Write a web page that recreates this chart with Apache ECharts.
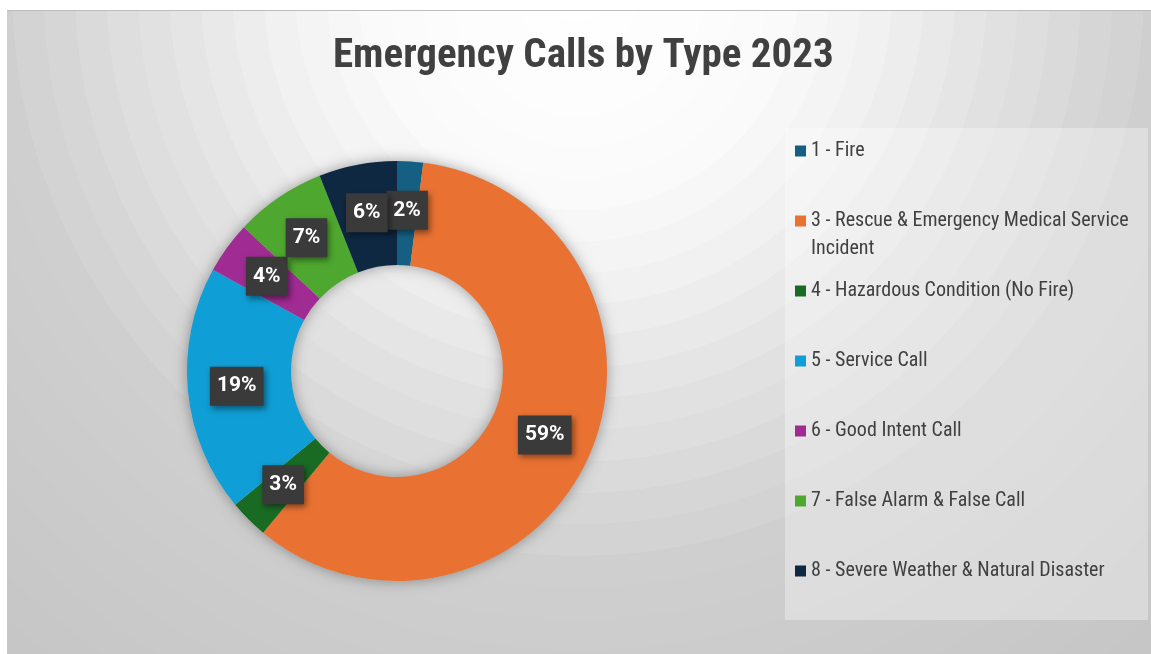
<!DOCTYPE html>
<html>
<head>
<meta charset="utf-8">
<title>Emergency Calls by Type 2023</title>
<script src="https://cdn.jsdelivr.net/npm/echarts@6/dist/echarts.min.js"></script>
<style>
  html, body { margin: 0; padding: 0; background: #ffffff; }
  #chart { width: 1151px; height: 654px; }
</style>
</head>
<body>
<div id="chart"></div>
<script>
// Call types and their share of all 2023 calls (percent)
const categories = [
  '1 - Fire',
  '3 - Rescue & Emergency Medical Service Incident',
  '4 - Hazardous Condition (No Fire)',
  '5 - Service Call',
  '6 - Good Intent Call',
  '7 - False Alarm & False Call',
  '8 - Severe Weather & Natural Disaster'
];
const shares = [2, 59, 3, 19, 4, 7, 6];
const sliceColors = ['#156082', '#E97132', '#196B24', '#0F9ED5', '#A02B93', '#4EA72E', '#0E2841'];

const narrowFont = "'Liberation Sans Narrow', 'Roboto Condensed', 'DejaVu Sans Condensed', Roboto, sans-serif";
const legendFontSize = 20;
const legendLine = 28;
const legendWrapWidth = 340;

// Wrap a legend entry into lines no wider than legendWrapWidth
const measureCtx = document.createElement('canvas').getContext('2d');
measureCtx.font = legendFontSize + 'px ' + narrowFont;
function wrapWords(text) {
  const words = text.split(' ');
  const lines = [];
  let cur = '';
  words.forEach(w => {
    const trial = cur ? cur + ' ' + w : w;
    if (cur && measureCtx.measureText(trial).width > legendWrapWidth) {
      lines.push(cur);
      cur = w;
    } else {
      cur = trial;
    }
  });
  if (cur) lines.push(cur);
  return lines;
}
// Every entry is three rich lines tall; the first text line sits beside the swatch
function legendFormatter(name) {
  const lines = wrapWords(name);
  const out = ['{e| }', '{t|' + lines[0] + '}', lines[1] ? '{t|' + lines[1] + '}' : '{e| }'];
  return out.join('\n');
}

// Banded radial backdrop: light at the top centre, fading to grey
function bgShade(d) {
  const pts = [[0, 255], [0.22, 251], [0.34, 241], [0.44, 230], [0.55, 218], [0.66, 207], [1, 198]];
  for (let i = 1; i < pts.length; i++) {
    if (d <= pts[i][0]) {
      const t = (d - pts[i - 1][0]) / (pts[i][0] - pts[i - 1][0]);
      return Math.round(pts[i - 1][1] + t * (pts[i][1] - pts[i - 1][1]));
    }
  }
  return pts[pts.length - 1][1];
}
const bgStops = [];
const bandCount = 28;
for (let k = 0; k < bandCount; k++) {
  const a = k / bandCount, b = (k + 1) / bandCount;
  const v = bgShade((a + b) / 2);
  const c = 'rgb(' + v + ',' + v + ',' + v + ')';
  bgStops.push({ offset: a, color: c }, { offset: b, color: c });
}

const chart = echarts.init(document.getElementById('chart'), null, { renderer: 'canvas' });

chart.setOption({
  animation: false,
  graphic: [
    {
      type: 'rect',
      z: -10,
      silent: true,
      shape: { x: 7, y: 10, width: 1144, height: 644 },
      style: {
        fill: { type: 'radial', x: 578, y: -10, r: 880, global: true, colorStops: bgStops }
      }
    },
    {
      type: 'line',
      z: -9,
      silent: true,
      shape: { x1: 7, y1: 10.5, x2: 1151, y2: 10.5 },
      style: { stroke: '#bdbdbd', lineWidth: 1 }
    },
    {
      type: 'rect',
      z: -8,
      silent: true,
      shape: { x: 785, y: 128, width: 363, height: 492 },
      style: { fill: 'rgba(255,255,255,0.32)' }
    }
  ],
  title: {
    text: 'Emergency Calls by Type 2023',
    left: 333,
    top: 36,
    padding: 0,
    textStyle: {
      fontFamily: narrowFont,
      fontSize: 41,
      fontWeight: 'bold',
      color: '#404040'
    }
  },
  legend: {
    orient: 'vertical',
    left: 795,
    top: 113,
    padding: 0,
    itemGap: -6,
    itemWidth: 11,
    itemHeight: 11,
    icon: 'rect',
    selectedMode: false,
    data: categories,
    formatter: legendFormatter,
    textStyle: {
      color: '#404040',
      fontFamily: narrowFont,
      fontSize: legendFontSize,
      rich: {
        t: { fontFamily: narrowFont, fontSize: legendFontSize, color: '#404040', lineHeight: legendLine },
        e: { fontSize: legendFontSize, lineHeight: legendLine }
      }
    }
  },
  series: [
    {
      // soft halo under the ring
      type: 'pie',
      silent: true,
      z: 1,
      center: [397, 371],
      radius: [106, 210],
      label: { show: false },
      labelLine: { show: false },
      tooltip: { show: false },
      itemStyle: {
        color: '#bdbdbd',
        shadowBlur: 14,
        shadowColor: 'rgba(0,0,0,0.35)'
      },
      emphasis: { disabled: true },
      data: [{ value: 1, name: '' }]
    },
    {
      type: 'pie',
      z: 2,
      name: 'Emergency Calls',
      center: [397, 371],
      radius: [106, 210],
      startAngle: 90,
      clockwise: true,
      avoidLabelOverlap: false,
      labelLayout: { hideOverlap: false },
      data: categories.map((name, i) => ({
        name: name,
        value: shares[i],
        itemStyle: { color: sliceColors[i] }
      })),
      label: {
        show: true,
        position: 'inside',
        formatter: '{c}%',
        color: '#ffffff',
        fontFamily: 'Roboto, sans-serif',
        fontWeight: 'bold',
        fontSize: 21,
        lineHeight: 24,
        backgroundColor: '#3a3a3a',
        padding: [8, 7, 7, 7],
        shadowBlur: 6,
        shadowColor: 'rgba(0,0,0,0.45)',
        shadowOffsetX: 2,
        shadowOffsetY: 3
      },
      labelLine: { show: false },
      emphasis: { scale: false }
    }
  ]
});
</script>
</body>
</html>
